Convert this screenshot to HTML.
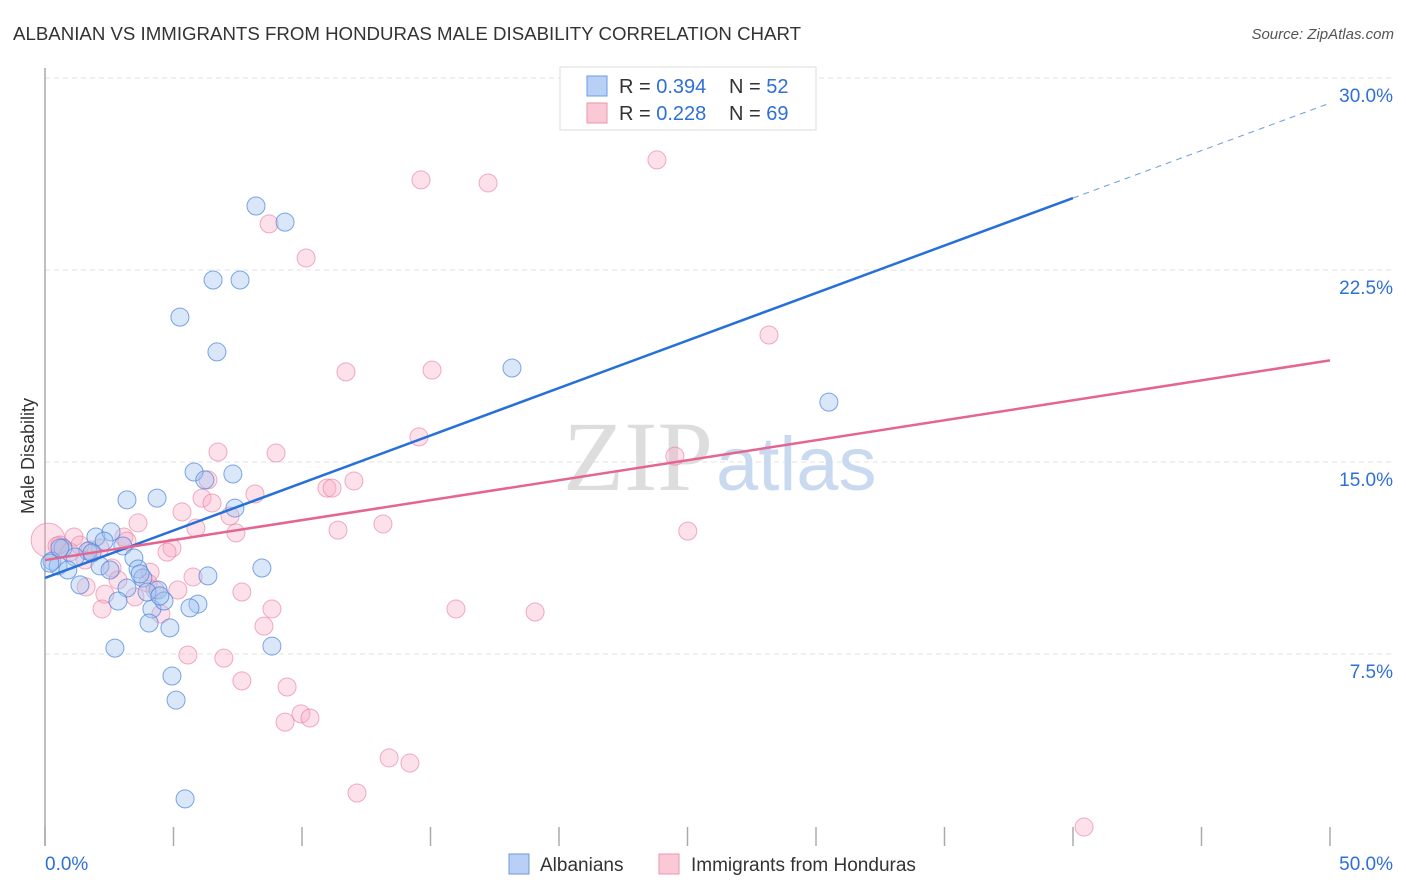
<!DOCTYPE html>
<html><head><meta charset="utf-8"><style>
body{margin:0;background:#fff;font-family:"Liberation Sans",sans-serif;}
svg{display:block}
</style></head><body>
<svg width="1406" height="892" xmlns="http://www.w3.org/2000/svg">
<text x="13" y="40" font-size="18" fill="#333" textLength="788" lengthAdjust="spacingAndGlyphs">ALBANIAN VS IMMIGRANTS FROM HONDURAS MALE DISABILITY CORRELATION CHART</text>
<text x="1394" y="39" font-size="15" fill="#555" font-style="italic" text-anchor="end">Source: ZipAtlas.com</text>
<g id="grid"></g>
<text x="713" y="490" font-size="100" fill="#ddd" font-family="Liberation Serif" text-anchor="end">ZIP</text>
<text x="716" y="490" font-size="76" fill="#c9d9f0">atlas</text>
<line x1="45" y1="68" x2="45" y2="846" stroke="#aaa" stroke-width="1.5"/>
<text transform="translate(34,456) rotate(-90)" font-size="18" fill="#333" text-anchor="middle">Male Disability</text>
<g id="ticks"></g>
<g id="pts"></g>
<g id="lines"></g>
<g>
<rect x="560" y="67" width="256" height="63" fill="#fff" stroke="#ddd"/>
<rect x="587" y="76" width="20" height="20" fill="#b8d0f5" stroke="#6c9be0"/>
<rect x="587" y="103" width="20" height="20" fill="#fbc8d6" stroke="#e894ad"/>
<text x="619" y="93" font-size="20" fill="#333">R = <tspan fill="#2f6fd6">0.394</tspan></text>
<text x="729" y="93" font-size="20" fill="#333">N = <tspan fill="#2f6fd6">52</tspan></text>
<text x="619" y="120" font-size="20" fill="#333">R = <tspan fill="#2f6fd6">0.228</tspan></text>
<text x="729" y="120" font-size="20" fill="#333">N = <tspan fill="#2f6fd6">69</tspan></text>
</g>
<g>
<rect x="509" y="854" width="20" height="20" fill="#b8d0f5" stroke="#6c9be0"/>
<text x="540" y="871" font-size="19" fill="#333">Albanians</text>
<rect x="659" y="854" width="20" height="20" fill="#fbc8d6" stroke="#e894ad"/>
<text x="691" y="871" font-size="19" fill="#333">Immigrants from Honduras</text>
</g>
<text x="45" y="870" font-size="19" fill="#2f6fd6">0.0%</text>
<text x="1393" y="870" font-size="19" fill="#2f6fd6" text-anchor="end">50.0%</text>
</svg>
<script>
const yTicks=[7.5,15,22.5,30];
const yTickLabels=["7.5%","15.0%","22.5%","30.0%"];
const blueX=[8.21,9.34,6.54,7.59,5.25,6.69,18.17,30.5,5.80,7.31,6.22,3.19,4.36,7.39,1.98,2.57,2.30,3.03,0.70,1.67,1.17,0.27,0.51,0.89,2.14,3.46,3.62,8.44,1.36,6.34,3.81,4.40,3.19,2.84,4.16,4.63,5.95,5.64,4.05,4.86,2.72,8.83,4.94,5.10,5.45,0.19,0.58,1.83,2.53,3.70,3.97,4.47];
const blueY=[25.0,24.37,22.11,22.11,20.66,19.30,18.67,17.34,14.61,14.53,14.30,13.52,13.59,13.20,12.07,12.27,11.91,11.72,11.64,11.52,11.29,11.13,10.94,10.78,10.94,11.25,10.82,10.86,10.20,10.55,10.47,10.00,10.08,9.57,9.26,9.57,9.45,9.30,8.71,8.52,7.73,7.81,6.64,5.70,1.84,11.05,11.64,11.45,10.78,10.63,9.92,9.77];
const pinkX=[23.81,14.63,17.24,8.72,10.16,28.17,11.71,15.06,14.55,24.51,6.73,8.99,6.34,8.17,10.97,11.17,12.02,6.11,6.50,5.33,7.20,3.62,5.87,11.40,13.15,25.01,7.43,3.07,3.19,1.13,4.94,4.75,0.12,0.58,1.75,1.56,2.61,4.09,2.84,5.76,4.01,4.28,1.60,5.17,2.33,3.50,7.66,2.22,4.51,8.83,15.99,19.07,8.52,5.56,6.96,7.66,9.42,9.96,10.31,9.34,13.39,14.20,12.14,40.43,0.47,0.97,1.36,2.14];
const pinkY=[26.80,26.02,25.90,24.30,22.97,19.96,18.52,18.59,15.98,15.23,15.39,15.35,14.30,13.75,13.98,13.98,14.26,13.59,13.40,13.05,12.89,12.62,12.42,12.34,12.58,12.30,12.23,12.07,11.91,12.07,11.64,11.48,11.95,11.76,11.56,11.17,10.86,10.70,10.39,10.51,10.27,10.00,10.12,10.00,9.84,9.73,9.92,9.26,9.06,9.26,9.26,9.14,8.59,7.46,7.34,6.45,6.21,5.16,5.00,4.84,3.44,3.24,2.07,0.74,11.72,11.48,11.76,11.64];
const blueTrend=[10.47,0.371];
const pinkTrend=[11.17,0.156];
const NS="http://www.w3.org/2000/svg";
const xs=v=>45+v/50*1285, ys=v=>846-v/7.5*192;
function mk(t,a,p){const e=document.createElementNS(NS,t);for(const k in a)e.setAttribute(k,a[k]);p.appendChild(e);return e;}
const grid=document.getElementById('grid');
yTicks.forEach((t,i)=>{
 const l=mk('line',{x1:45,x2:1393,y1:ys(t),y2:ys(t),stroke:'#e2e2e2','stroke-dasharray':'5,4'},grid);
 
 
 const tx=mk('text',{x:1393,y:ys(t)+24,'font-size':19,fill:'#2f6fd6','text-anchor':'end'},grid);
 tx.textContent=yTickLabels[i];
 
 
});
const ticks=document.getElementById('ticks');
for(let v=0;v<=50;v+=5){
 const l=mk('line',{x1:xs(v),x2:xs(v),y1:827,y2:846,stroke:'#aaa','stroke-width':1.5},ticks);
 
 
}
const pts=document.getElementById('pts');
pinkX.forEach((x,i)=>{
 const c=mk('circle',{cx:xs(x),cy:ys(pinkY[i]),r:i==32?17:9,fill:'rgba(248,170,195,0.35)',stroke:'rgba(232,120,155,0.6)','stroke-width':1},pts);
 
 
});
blueX.forEach((x,i)=>{
 const c=mk('circle',{cx:xs(x),cy:ys(blueY[i]),r:9,fill:'rgba(160,195,240,0.4)',stroke:'rgba(70,130,220,0.7)','stroke-width':1},pts);
 
 
});
const lines=document.getElementById('lines');
let l=mk('line',{x1:xs(0),y1:ys(blueTrend[0]),x2:xs(40),y2:ys(blueTrend[0]+40*blueTrend[1]),stroke:'#2670d8','stroke-width':2.5},lines);


l=mk('line',{x1:xs(40),y1:ys(blueTrend[0]+40*blueTrend[1]),x2:xs(50),y2:ys(blueTrend[0]+50*blueTrend[1]),stroke:'#6a9be0','stroke-width':1,'stroke-dasharray':'6,5'},lines);


l=mk('line',{x1:xs(0),y1:ys(pinkTrend[0]),x2:xs(50),y2:ys(pinkTrend[0]+50*pinkTrend[1]),stroke:'#e56591','stroke-width':2.5},lines);


</script>
</body></html>
